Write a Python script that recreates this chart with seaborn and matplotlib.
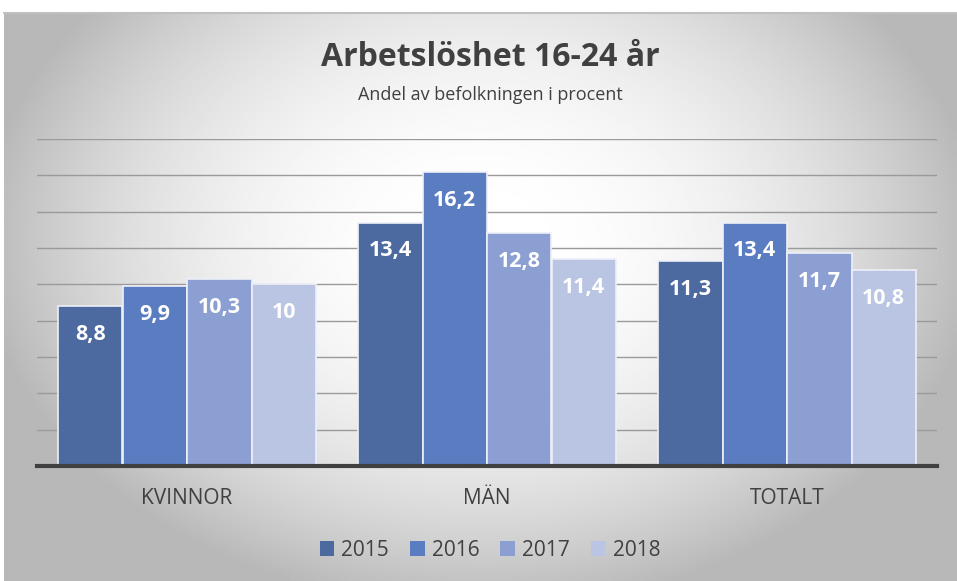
import numpy as np
import pandas as pd
import matplotlib
matplotlib.use("Agg")
import matplotlib.pyplot as plt
import seaborn as sns

categories = ["KVINNOR", "MÄN", "TOTALT"]
years = ["2015", "2016", "2017", "2018"]
v2015 = [8.8, 13.4, 11.3]
v2016 = [9.9, 16.2, 13.4]
v2017 = [10.3, 12.8, 11.7]
v2018 = [10.0, 11.4, 10.8]
colors = ["#4C6AA0", "#5A7DC2", "#8C9FD3", "#BAC4E3"]

rows = []
for yr, vals in zip(years, [v2015, v2016, v2017, v2018]):
    for c, v in zip(categories, vals):
        rows.append({"kategori": c, "år": yr, "värde": v})
df = pd.DataFrame(rows)

sns.set_theme(style="white")
plt.rcParams['font.family'] = ['Open Sans', 'DejaVu Sans']

W, H = 957, 581
fig = plt.figure(figsize=(W / 100, H / 100), dpi=100)

# background radial gradient
bg = fig.add_axes([0, 0, 1, 1])
bg.set_xlim(0, W)
bg.set_ylim(H, 0)
bg.axis("off")
xx, yy = np.meshgrid(np.linspace(0, 1, 400), np.linspace(0, 1, 250))
r = np.sqrt(((xx - 0.5) / 0.5) ** 2 + ((yy - 0.4) / 0.62) ** 2)
val = np.clip(1.0 - 0.25 * r ** 2.2, 0.72, 1.0)
bg.imshow(val, cmap="gray", vmin=0, vmax=1, extent=[4, W, H, 13], aspect="auto", zorder=0)
bg.plot([4, W], [13, 13], color="#c0c0c0", lw=1.5, zorder=1)

ax = fig.add_axes([37 / W, 1 - 466 / H, 900 / W, (466 - 139) / H])
ax.patch.set_alpha(0)
sns.barplot(data=df, x="kategori", y="värde", hue="år", palette=colors,
            saturation=1, width=0.86, edgecolor="#eef0f8", linewidth=1.2, ax=ax,
            legend=True, zorder=3)
ax.set_ylim(0, 18)
ax.set_yticks(np.arange(2, 19, 2))
ax.yaxis.grid(True, color="#9a9a9a", lw=1, zorder=0)
ax.set_axisbelow(True)
ax.tick_params(axis="y", left=False, labelleft=False)
ax.tick_params(axis="x", bottom=False, pad=10, labelsize=15, labelcolor="#404040")
for s in ["top", "right", "left"]:
    ax.spines[s].set_visible(False)
ax.spines["bottom"].set_color("#404040")
ax.spines["bottom"].set_linewidth(3)
ax.spines["bottom"].set_zorder(5)
ax.set_xlabel("")
ax.set_ylabel("")

for cont in ax.containers:
    labels = [f"{v:g}".replace(".", ",") for v in cont.datavalues]
    ax.bar_label(cont, labels=labels, label_type="edge", padding=-28,
                 color="white", fontsize=15.5, fontweight="bold")

leg = ax.legend(ncol=4, frameon=False, loc="center", bbox_to_anchor=(490 / W, 1 - 550 / H),
                bbox_transform=fig.transFigure, fontsize=15, handlelength=0.7,
                handleheight=0.7, handletextpad=0.35, columnspacing=1.0,
                labelcolor="#404040")
for h in leg.legend_handles:
    h.set_edgecolor("none")

fig.text(490 / W, 1 - 57 / H, "Arbetslöshet 16-24 år", ha="center", va="center",
         fontsize=23, fontweight="bold", color="#404040")
fig.text(490 / W, 1 - 95 / H, "Andel av befolkningen i procent", ha="center", va="center",
         fontsize=13, color="#404040")

fig.savefig("out.png", dpi=100)
